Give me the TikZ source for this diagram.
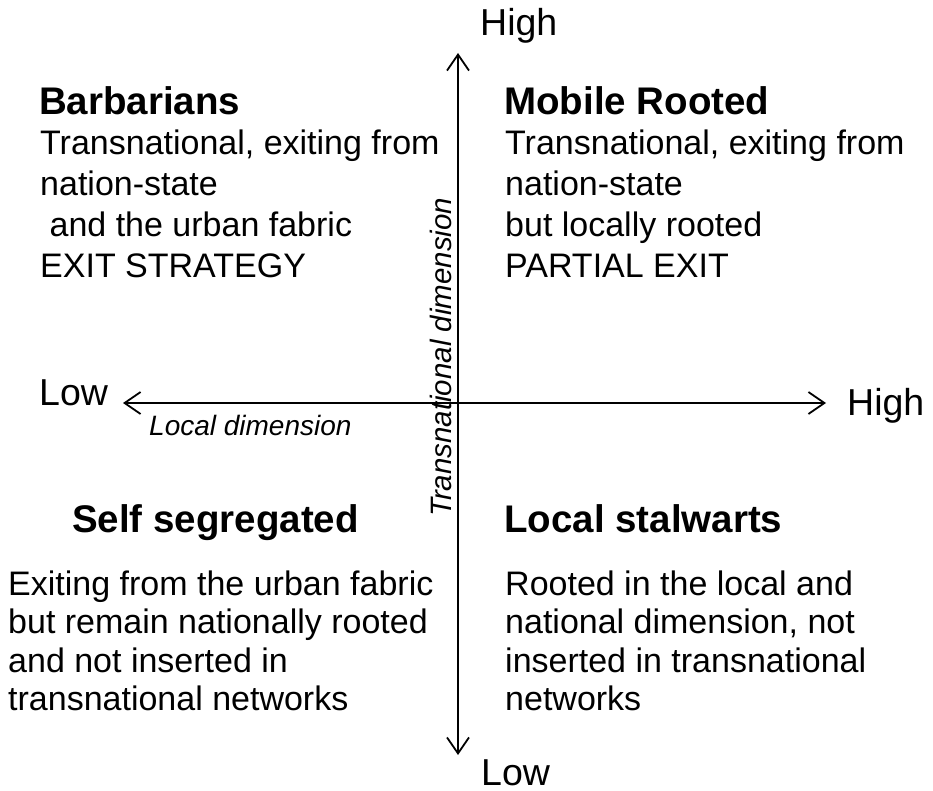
\documentclass[tikz,border=0pt]{standalone}
\usepackage{fontspec}
\setmainfont{Liberation Sans}
\usetikzlibrary{arrows.meta}
\begin{document}
\begin{tikzpicture}[x=1pt,y=-1pt,
  axis/.style={line width=1.8pt,{Straight Barb[length=16pt,width=22pt,line width=1.8pt]}-{Straight Barb[length=16pt,width=22pt,line width=1.8pt]}},
  axlabel/.style={anchor=base west,inner sep=0pt,font=\fontsize{37.5}{40}\selectfont},
  dimlabel/.style={anchor=base west,inner sep=0pt,font=\fontsize{28}{30}\selectfont\itshape},
  heading/.style={anchor=base west,inner sep=0pt,font=\fontsize{38.5}{42}\selectfont\bfseries},
  body/.style={anchor=base west,inner sep=0pt,align=left,font=\fontsize{34}{41}\selectfont}]
\useasboundingbox (0,0) rectangle (933,791);
\fill[white] (0,0) rectangle (933,791);
% axes
\coordinate (vtop) at (458,53);
\coordinate (vbot) at (458,755);
\coordinate (hleft) at (123,403);
\coordinate (hright) at (826,403);
\draw[axis] (vbot) -- (vtop);
\draw[axis] (hleft) -- (hright);
% axis labels
\node[axlabel] (hightop) at (480,36) {High};
\node[axlabel] (lowbot) at (481,785) {Low};
\node[axlabel] (lowleft) at (39,405) {Low};
\node[axlabel] (highright) at (847,415) {High};
\node[dimlabel] (localdim) at (149,435) {Local dimension};
\node[dimlabel,rotate=90,font=\fontsize{29.5}{31}\selectfont\itshape] (transdim) at (451,517) {Transnational dimension};
% quadrants (base anchor = baseline of the last line)
\node[heading] (barb) at (39,115) {Barbarians};
\node[body] (barbtext) at (40,278) {Transnational, exiting from\\nation-state\\\hspace*{.278em}and the urban fabric\\EXIT STRATEGY};
\node[heading] (mobile) at (504,115) {Mobile Rooted};
\node[body] (mobiletext) at (505,278) {Transnational, exiting from\\nation-state\\but locally rooted\\PARTIAL EXIT};
\node[heading] (selfseg) at (72,532) {Self segregated};
\node[body,font=\fontsize{34}{38.5}\selectfont] (selfsegtext) at (8,710.5) {Exiting from the urban fabric\\but remain nationally rooted\\and not inserted in\\transnational networks};
\node[heading] (stal) at (504,532) {Local stalwarts};
\node[body,font=\fontsize{34}{38.5}\selectfont] (staltext) at (505,710.5) {Rooted in the local and\\national dimension, not\\inserted in transnational\\networks};
\end{tikzpicture}
\end{document}
